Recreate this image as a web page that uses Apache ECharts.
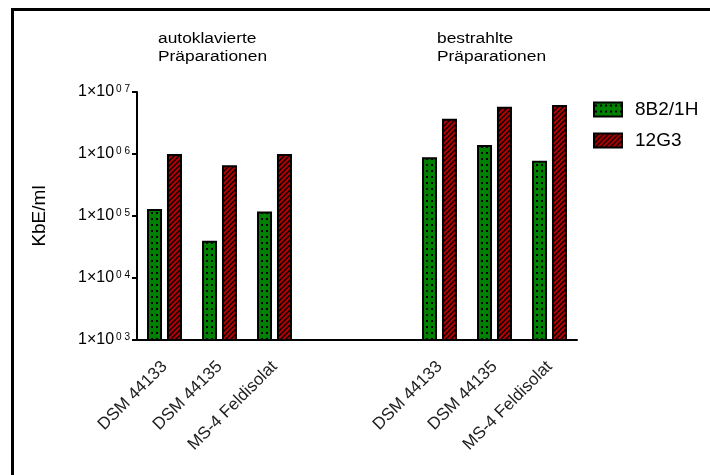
<!DOCTYPE html>
<html>
<head>
<meta charset="utf-8">
<script src="https://cdn.jsdelivr.net/npm/echarts@6/dist/echarts.min.js"></script>
<style>
  html, body { margin: 0; padding: 0; background: #fff; }
  #chart { width: 710px; height: 475px; }
</style>
</head>
<body>
<div id="chart"></div>
<script>
	// categories, two empty slots separate the two groups
	var categories = ['DSM 44133', 'DSM 44135', 'MS-4 Feldisolat', '', '', 'DSM 44133', 'DSM 44135', 'MS-4 Feldisolat'];
	var seriesNames = ['8B2/1H', '12G3'];
	var green8B2 = [130000, 40000, 118000, '-', '-', 890000, 1400000, 780000];
	var red12G3 = [1000000, 660000, 1000000, '-', '-', 3700000, 5800000, 6150000];
	var groupTitles = ['autoklavierte\nPräparationen', 'bestrahlte\nPräparationen'];

	function dotPattern(){
		var c = document.createElement('canvas');
		c.width = 5; c.height = 6;
		var ctx = c.getContext('2d');
		ctx.fillStyle = '#008000';
		ctx.fillRect(0, 0, 5, 6);
		ctx.fillStyle = '#000';
		ctx.fillRect(1, 2, 2, 2);
		return c;
	}
	function hatchPattern(){
		var c = document.createElement('canvas');
		c.width = 5; c.height = 5;
		var ctx = c.getContext('2d');
		ctx.fillStyle = '#b00000';
		ctx.fillRect(0, 0, 5, 5);
		ctx.strokeStyle = '#000';
		ctx.lineWidth = 1.3;
		ctx.beginPath();
		ctx.moveTo(-1, 6); ctx.lineTo(6, -1);
		ctx.moveTo(-1, 1); ctx.lineTo(1, -1);
		ctx.moveTo(4, 6); ctx.lineTo(6, 4);
		ctx.stroke();
		return c;
	}

	var myChart = echarts.init(document.getElementById('chart'));
	var font = 'Liberation Sans, Arial, sans-serif';
	var option = {
		animation: false,
		backgroundColor: '#fff',
		textStyle: { fontFamily: font, color: '#000' },
		grid: { left: 137, right: 133, top: 92, bottom: 135 },
		legend: {
			orient: 'vertical',
			left: 593, top: 100,
			padding: 0,
			icon: 'rect',
			itemWidth: 28, itemHeight: 14, itemGap: 12,
			data: seriesNames,
			textStyle: { fontSize: 19, color: '#000', fontFamily: font, padding: [0, 0, 0, 8] }
		},
		xAxis: {
			type: 'category',
			data: categories,
			axisLine: { lineStyle: { color: '#000', width: 2 } },
			axisTick: { alignWithLabel: true, length: 6, interval: 0, lineStyle: { color: '#000', width: 2 } },
			axisLabel: { interval: 0, rotate: 45, fontSize: 17, color: '#222', margin: 24, fontFamily: font }
		},
		yAxis: {
			type: 'log',
			min: 1000, max: 10000000,
			logBase: 10,
			name: 'KbE/ml',
			nameLocation: 'middle',
			nameGap: 88,
			nameTextStyle: { fontSize: 19, color: '#000', fontFamily: font },
			splitLine: { show: false },
			axisLine: { show: true, lineStyle: { color: '#000', width: 2 } },
			axisTick: { show: true, inside: false, length: 5, lineStyle: { color: '#000', width: 2 } },
			axisLabel: {
				margin: 7,
				formatter: function(v){
					var e = Math.round(Math.log10(v));
					return '{a|1×10}{b|0 ' + e + '}';
				},
				rich: {
					a: { fontSize: 16, color: '#000', fontFamily: font, lineHeight: 16, verticalAlign: 'bottom' },
					b: { fontSize: 10, color: '#000', fontFamily: font, lineHeight: 16, verticalAlign: 'top', padding: [0, 0, 8, 2] }
				}
			}
		},
		graphic: [
			{ type: 'rect', shape: { x: 11, y: 8, width: 3, height: 480 }, style: { fill: '#000' } },
			{ type: 'rect', shape: { x: 11, y: 8, width: 720, height: 3 }, style: { fill: '#000' } },
			{ type: 'text', x: 158, y: 30, scaleX: 1.24, style: { text: groupTitles[0], font: '14px ' + font, fill: '#000', lineHeight: 18 } },
			{ type: 'text', x: 437, y: 30, scaleX: 1.24, style: { text: groupTitles[1], font: '14px ' + font, fill: '#000', lineHeight: 18 } }
		],
		series: [
			{
				name: seriesNames[0], type: 'bar', data: green8B2,
				barWidth: 15, barGap: '33%',
				itemStyle: { color: { image: dotPattern(), repeat: 'repeat' }, borderColor: '#000', borderWidth: 2 }
			},
			{
				name: seriesNames[1], type: 'bar', data: red12G3,
				barWidth: 15,
				itemStyle: { color: { image: hatchPattern(), repeat: 'repeat' }, borderColor: '#000', borderWidth: 2 }
			}
		]
	};
	myChart.setOption(option);
	window.addEventListener("resize", function() {
		myChart.resize();
	});
</script>
</body>
</html>
